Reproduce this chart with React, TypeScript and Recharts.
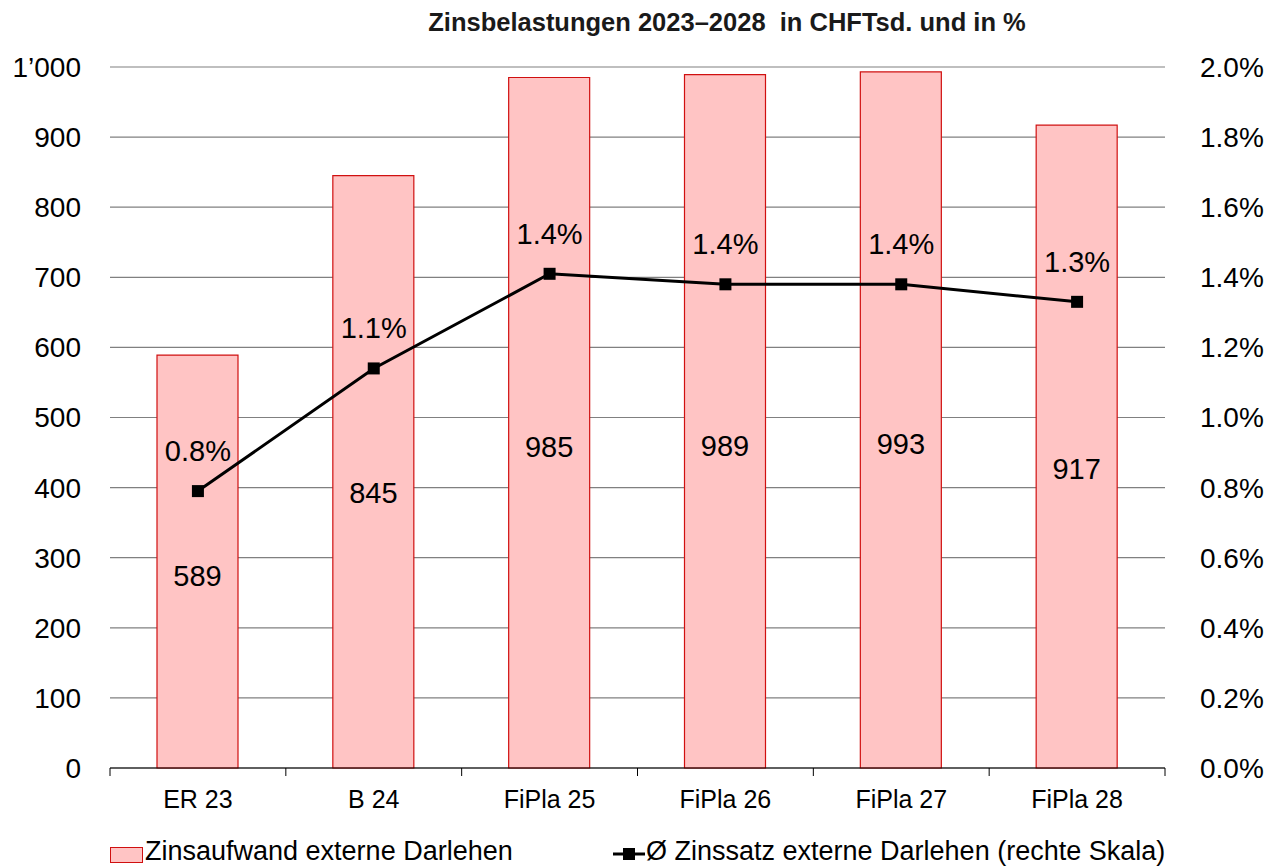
import { Bar, CartesianGrid, ComposedChart, LabelList, Line, XAxis, YAxis } from 'recharts';

const CATEGORIES = ['ER 23', 'B 24', 'FiPla 25', 'FiPla 26', 'FiPla 27', 'FiPla 28'];
const INTEREST_EXPENSE = [589, 845, 985, 989, 993, 917];
const INTEREST_RATE = [0.79, 1.14, 1.41, 1.38, 1.38, 1.33];
const LEFT_TICKS = [0, 100, 200, 300, 400, 500, 600, 700, 800, 900, 1000];
const RIGHT_TICKS = [0, 0.2, 0.4, 0.6, 0.8, 1.0, 1.2, 1.4, 1.6, 1.8, 2.0];

const TITLE = 'Zinsbelastungen 2023–2028  in CHFTsd. und in %';
const BAR_NAME = 'Zinsaufwand externe Darlehen';
const LINE_NAME = 'Ø Zinssatz externe Darlehen (rechte Skala)';

const data = CATEGORIES.map((cat, i) => ({
  cat,
  expense: INTEREST_EXPENSE[i],
  rate: INTEREST_RATE[i],
}));

const W = 1279;
const H = 866;
const PLOT_LEFT = 110;
const PLOT_RIGHT = 1165;
const STEP = (PLOT_RIGHT - PLOT_LEFT) / CATEGORIES.length;
const FONT = '"Liberation Sans", Arial, sans-serif';
const BAR_FILL = '#ffc4c4';
const BAR_STROKE = '#d01010';
const GRID = '#808080';

function fmtThousands(v: number) {
  return v >= 1000 ? `${Math.floor(v / 1000)}’${String(v % 1000).padStart(3, '0')}` : `${v}`;
}

function CategoryTick(props: any) {
  const { x, y, payload, index } = props;
  const last = index === CATEGORIES.length - 1;
  return (
    <g>
      <line x1={x - STEP / 2} y1={y} x2={x - STEP / 2} y2={y + 8} stroke="#000" strokeWidth={1} />
      {last ? <line x1={x + STEP / 2} y1={y} x2={x + STEP / 2} y2={y + 8} stroke="#000" strokeWidth={1} /> : null}
      <text x={x} y={y + 40} textAnchor="middle" fontSize={25} fontFamily={FONT} fill="#000">
        {payload.value}
      </text>
    </g>
  );
}

function BarValueLabel(props: any) {
  const { x, y, width, height, value } = props;
  return (
    <text
      x={x + width / 2}
      y={y + height * 0.535}
      textAnchor="middle"
      dominantBaseline="central"
      fontSize={29}
      fontFamily={FONT}
      fill="#000"
    >
      {value}
    </text>
  );
}

const legendText = {
  position: 'absolute' as const,
  top: 838,
  display: 'flex',
  alignItems: 'center',
  fontSize: 27,
  lineHeight: '27px',
  color: '#000',
  whiteSpace: 'nowrap' as const,
};

export default function App() {
  return (
    <div style={{ position: 'absolute', left: 0, top: 0, width: W, height: H, background: '#fff', fontFamily: FONT, overflow: 'hidden' }}>
      <div
        style={{
          position: 'absolute',
          left: 27,
          top: 10,
          width: 1400,
          textAlign: 'center',
          fontWeight: 700,
          fontSize: 25.5,
          lineHeight: '25.5px',
          color: '#1a1a1a',
          whiteSpace: 'pre',
        }}
      >
        {TITLE}
      </div>
      <ComposedChart width={W} height={H} data={data} margin={{ top: 67, right: 0, bottom: 58, left: 0 }}>
        <CartesianGrid vertical={false} stroke={GRID} strokeWidth={1.2} yAxisId="left" />
        <XAxis
          dataKey="cat"
          tickLine={false}
          tickSize={0}
          tickMargin={0}
          axisLine={{ stroke: '#000', strokeWidth: 1.2 }}
          tick={<CategoryTick />}
          interval={0}
          height={40}
        />
        <YAxis
          yAxisId="left"
          domain={[0, 1000]}
          ticks={LEFT_TICKS}
          width={PLOT_LEFT}
          axisLine={false}
          tickLine={false}
          tickMargin={23}
          tick={{ fontSize: 28, fill: '#000', fontFamily: FONT }}
          tickFormatter={fmtThousands}
          interval={0}
        />
        <YAxis
          yAxisId="right"
          orientation="right"
          domain={[0, 2]}
          ticks={RIGHT_TICKS}
          width={W - PLOT_RIGHT}
          axisLine={false}
          tickLine={false}
          tickMargin={29}
          tick={{ fontSize: 28, fill: '#000', fontFamily: FONT, textAnchor: 'start' }}
          tickFormatter={(v: number) => `${v.toFixed(1)}%`}
          interval={0}
        />
        <Bar
          yAxisId="left"
          dataKey="expense"
          fill={BAR_FILL}
          stroke={BAR_STROKE}
          strokeWidth={1.2}
          barSize={81}
          isAnimationActive={false}
        >
          <LabelList dataKey="expense" content={<BarValueLabel />} />
        </Bar>
        <Line
          yAxisId="right"
          dataKey="rate"
          stroke="#000"
          strokeWidth={3}
          dot={(p: any) => (
            <rect key={p.index} x={p.cx - 6} y={p.cy - 6} width={12} height={12} fill="#000" />
          )}
          activeDot={false}
          isAnimationActive={false}
        >
          <LabelList
            dataKey="rate"
            position="top"
            offset={30}
            fontSize={29}
            fontFamily={FONT}
            fill="#000"
            formatter={(v: any) => `${Number(v).toFixed(1)}%`}
          />
        </Line>
      </ComposedChart>
      <div style={{ ...legendText, left: 110 }}>
        <span
          style={{
            display: 'inline-block',
            width: 31,
            height: 14,
            marginTop: 6,
            background: BAR_FILL,
            border: `1px solid ${BAR_STROKE}`,
          }}
        />
        <span style={{ marginLeft: 2 }}>{BAR_NAME}</span>
      </div>
      <div style={{ ...legendText, left: 613 }}>
        <svg width={32} height={16} style={{ marginTop: 4 }}>
          <line x1={0} y1={8} x2={32} y2={8} stroke="#000" strokeWidth={3} />
          <rect x={10} y={2} width={12} height={12} fill="#000" />
        </svg>
        <span style={{ marginLeft: 1 }}>{LINE_NAME}</span>
      </div>
    </div>
  );
}
